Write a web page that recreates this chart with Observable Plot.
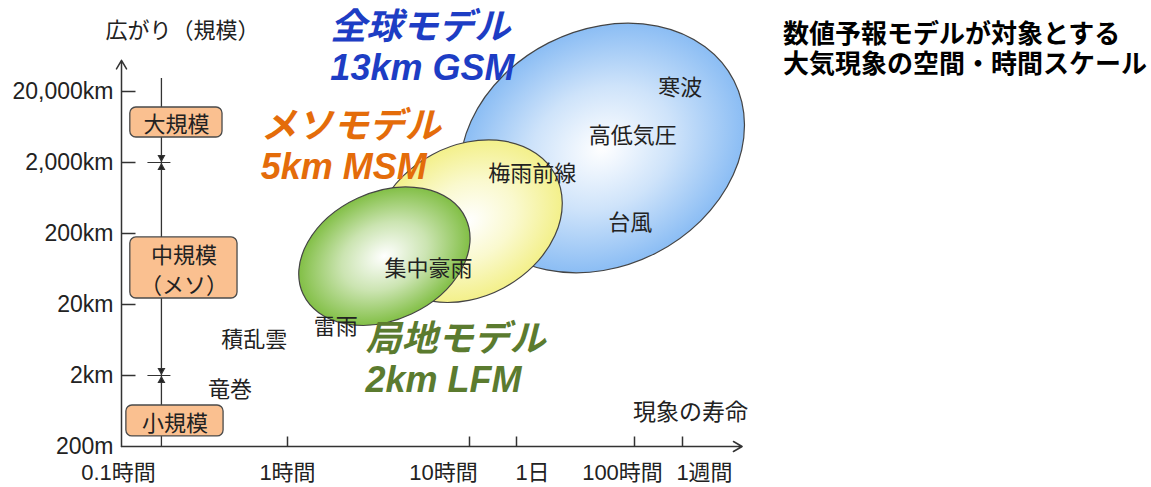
<!DOCTYPE html>
<html><head><meta charset="utf-8">
<script src="https://cdn.jsdelivr.net/npm/d3@7"></script>
<script src="https://cdn.jsdelivr.net/npm/@observablehq/plot@0.6"></script>
<style>
body{margin:0;background:#fff;}
#wrap{position:relative;width:1151px;height:487px;overflow:hidden;}
.title{position:absolute;left:783px;height:30px;font:700 26px/30px "Noto Sans CJK JP",sans-serif;color:#000;white-space:nowrap;overflow:visible;}
</style></head><body>
<div id="wrap">
  <div class="title" style="top:17px">数値予報モデルが対象とする</div>
  <div class="title" style="top:47px">大気現象の空間・時間スケール</div>
</div>
<script>
// ---- data ----
const xTicks = [0.1, 1, 10, 24, 100, 168];            // hours
const xTickLabels = ["0.1時間", "1時間", "10時間", "1日", "100時間", "1週間"];
const yTicks = [0.2, 2, 20, 200, 2000, 20000];        // km
const yTickLabels = ["200m", "2km", "20km", "200km", "2,000km", "20,000km"];

const rangeModels = ["GSM", "MSM", "LFM"];
const rangeTimeMin = [8.9, 3.0, 1.16];
const rangeTimeMax = [330, 42, 10.2];
const rangeSizeMin = [55, 21, 10];
const rangeSizeMax = [180000, 4100, 890];
const rangeTilt = [27, 28, 25];

const modelLabels = ["全球モデル\n13km GSM", "メソモデル\n5km MSM", "局地モデル\n2km LFM"];
const modelTime = [1.72, 0.69, 2.68];
const modelSize = [87500, 3500, 3.47];

const phenomena = ["寒波", "高低気圧", "梅雨前線", "台風", "集中豪雨", "雷雨", "積乱雲", "竜巻"];
const phenTime = [164, 98, 29, 95, 5.95, 1.84, 0.63, 0.45];
const phenSize = [22800, 4800, 1360, 286, 64, 9.8, 6.4, 1.27];

const scaleClasses = ["大規模", "中規模\n（メソ）", "小規模"];
const classTimeMin = [0.113, 0.113, 0.107];
const classTimeMax = [0.406, 0.5, 0.412];
const classSizeMin = [4500, 24.3, 0.277];
const classSizeMax = [11900, 176, 0.756];
const classBoundaries = [2000, 2];      // km
const barTime = 0.174, barTop = 30500;  // scale bar
const timeEnd = 320, sizeEnd = 55000;   // arrow tips

// ---- layout / style ----
const xRangePx = [121, 287, 469, 516, 634, 682];
const yRangePx = [446, 91];
const xLabelNudge = [-3, 0, -26, 16, -12, 22];
const modelColors = ["#1d3dc4", "#e46c0a", "#5b7b2f"];
const rangeColors = ["#8bbdf4", "#f3f08a", "#82bf46"];
const ink = "#333";
const latin = "'Liberation Sans', 'Noto Sans CJK JP', sans-serif";
const cjk = "'Noto Sans CJK JP', sans-serif";

const hTick = {draw(c) { c.moveTo(0, 0); c.lineTo(14, 0); }};
const vTick = {draw(c) { c.moveTo(0, 0); c.lineTo(0, -10); }};
const divider = {draw(c) {
  c.moveTo(-14, 0); c.lineTo(9, 0);
  c.moveTo(-3, -7); c.lineTo(3, -7); c.lineTo(0, -1.5); c.closePath();
  c.moveTo(-3, 7); c.lineTo(3, 7); c.lineTo(0, 1.5); c.closePath();
}};

function rangeEllipses(index, scales) {
  const ns = "http://www.w3.org/2000/svg";
  const g = document.createElementNS(ns, "g");
  const defs = document.createElementNS(ns, "defs");
  g.appendChild(defs);
  rangeModels.forEach((m, i) => {
    const grad = document.createElementNS(ns, "radialGradient");
    grad.setAttribute("id", "grad-" + m);
    [[0, 0], [0.5, 0.42], [1, 1]].forEach(([o, k]) => {
      const s = document.createElementNS(ns, "stop");
      s.setAttribute("offset", o);
      s.setAttribute("stop-color", d3.interpolateRgb("#ffffff", rangeColors[i])(k));
      grad.appendChild(s);
    });
    defs.appendChild(grad);
    const x0 = scales.x(rangeTimeMin[i]), x1 = scales.x(rangeTimeMax[i]);
    const y0 = scales.y(rangeSizeMax[i]), y1 = scales.y(rangeSizeMin[i]);
    const cx = (x0 + x1) / 2, cy = (y0 + y1) / 2;
    const W = (x1 - x0) / 2, H = (y1 - y0) / 2;
    const t = rangeTilt[i] * Math.PI / 180;
    const sum = W * W + H * H, diff = (W * W - H * H) / Math.cos(2 * t);
    const a = Math.sqrt((sum + diff) / 2), b = Math.sqrt(Math.max(1, (sum - diff) / 2));
    const e = document.createElementNS(ns, "ellipse");
    e.setAttribute("cx", cx); e.setAttribute("cy", cy);
    e.setAttribute("rx", a); e.setAttribute("ry", b);
    e.setAttribute("transform", `rotate(${-rangeTilt[i]} ${cx} ${cy})`);
    e.setAttribute("fill", `url(#grad-${m})`);
    e.setAttribute("stroke", "#444");
    e.setAttribute("stroke-width", 1.2);
    g.appendChild(e);
  });
  return g;
}

const chart = Plot.plot({
  width: 1151, height: 487,
  marginTop: 0, marginRight: 0, marginBottom: 0, marginLeft: 0,
  style: {fontFamily: latin, background: "transparent", color: ink, overflow: "visible"},
  x: {type: "log", domain: xTicks, range: xRangePx, axis: null},
  y: {type: "log", domain: [yTicks[0], yTicks[yTicks.length - 1]], range: yRangePx, axis: null},
  marks: [
    rangeEllipses,
    // axes
    Plot.arrow([0], {x1: () => xTicks[0], y1: () => yTicks[0], x2: () => timeEnd, y2: () => yTicks[0], stroke: ink, strokeWidth: 1.5, headLength: 10, headAngle: 60}),
    Plot.arrow([0], {x1: () => xTicks[0], y1: () => yTicks[0], x2: () => xTicks[0], y2: () => sizeEnd, stroke: ink, strokeWidth: 1.5, headLength: 10, headAngle: 60}),
    Plot.dot(yTicks.slice(1), {x: () => xTicks[0], y: d => d, symbol: hTick, fill: "none", stroke: ink, strokeWidth: 1.5}),
    Plot.dot(xTicks.slice(1), {x: d => d, y: () => yTicks[0], symbol: vTick, fill: "none", stroke: ink, strokeWidth: 1.5}),
    Plot.text(yTickLabels, {x: () => xTicks[0], y: (d, i) => yTicks[i], text: d => d, textAnchor: "end", dx: -8, fontSize: 23, fill: "#222"}),
    // scale bar
    Plot.ruleX([barTime], {x: d => d, y1: () => yTicks[0], y2: () => barTop, stroke: ink, strokeWidth: 1.3}),
    Plot.dot(classBoundaries, {x: () => barTime, y: d => d, symbol: divider, fill: "#222", stroke: ink, strokeWidth: 1.2}),
    Plot.rect(scaleClasses, {x1: (d, i) => classTimeMin[i], x2: (d, i) => classTimeMax[i], y1: (d, i) => classSizeMin[i], y2: (d, i) => classSizeMax[i], fill: "#fac090", stroke: "#4a4a4a", strokeWidth: 1.3, rx: 6}),
    Plot.text(scaleClasses, {x: (d, i) => Math.sqrt(classTimeMin[i] * classTimeMax[i]), y: (d, i) => Math.sqrt(classSizeMin[i] * classSizeMax[i]), text: d => d, fontSize: 22, lineHeight: 1.36, fill: "#222", fontFamily: cjk}),
    // phenomena
    Plot.text(phenomena, {x: (d, i) => phenTime[i], y: (d, i) => phenSize[i], text: d => d, fontSize: 22, fill: "#222", fontFamily: cjk}),
    // model labels
    Plot.text(modelLabels, {x: (d, i) => modelTime[i], y: (d, i) => modelSize[i], text: d => d, textAnchor: "start", fontSize: 36, lineHeight: 1.14, fontWeight: "bold", fontStyle: "italic", fill: (d, i) => modelColors[i]}),
    // axis titles
    Plot.text(["広がり（規模）"], {x: () => xTicks[0], y: () => sizeEnd, text: d => d, textAnchor: "start", dx: -16, dy: -29, fontSize: 22, fill: "#222", fontFamily: cjk}),
    Plot.text(["現象の寿命"], {x: () => timeEnd, y: () => yTicks[0], text: d => d, textAnchor: "end", dx: 6, dy: -34, fontSize: 23, fill: "#222", fontFamily: cjk})
  ].concat(
    xTickLabels.map((lab, i) => Plot.text([lab], {x: () => xTicks[i], y: () => yTicks[0], text: d => d, dy: 26, dx: xLabelNudge[i], fontSize: 22, fill: "#222"}))
  )
});
document.getElementById("wrap").appendChild(chart);
</script>
</body></html>
